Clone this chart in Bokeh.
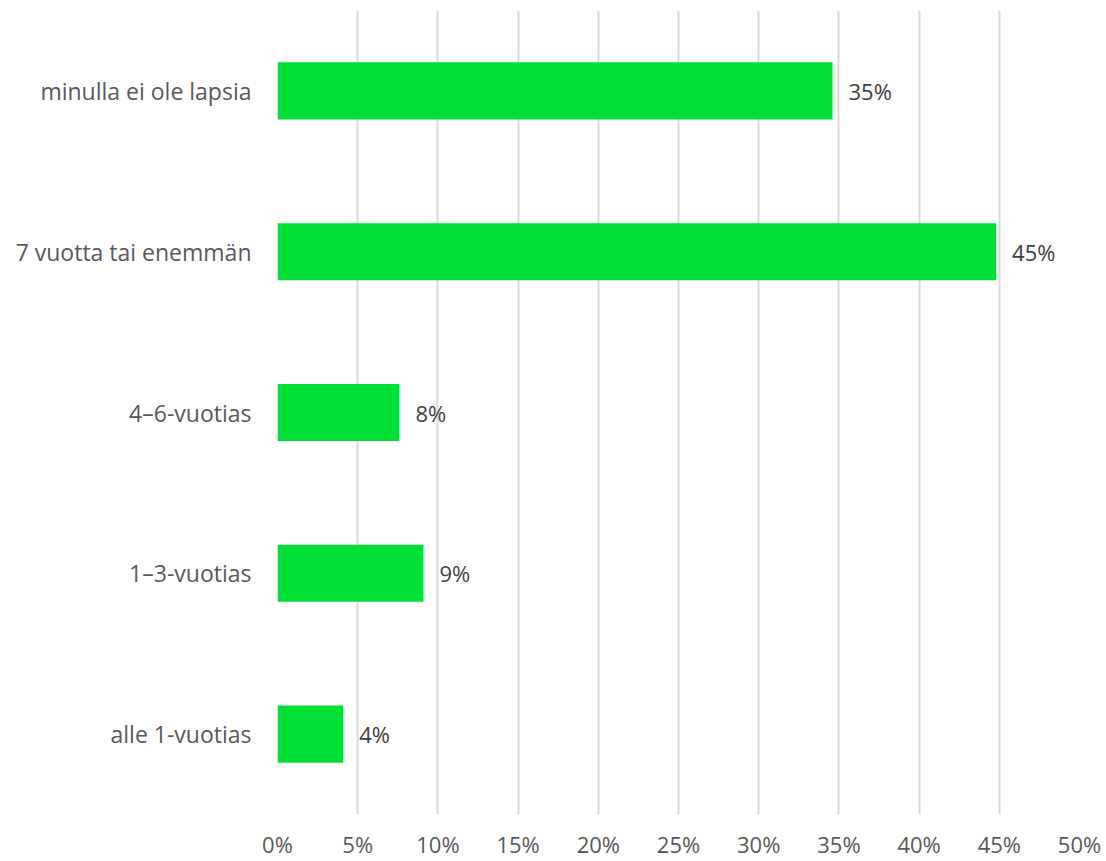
from bokeh.plotting import figure
from bokeh.models import ColumnDataSource, FactorRange, FixedTicker, NumeralTickFormatter
from bokeh.embed import file_html
from bokeh.resources import INLINE
from bokeh.core.properties import value

categories = ["alle 1-vuotias", "1–3-vuotias", "4–6-vuotias", "7 vuotta tai enemmän", "minulla ei ole lapsia"]
shares = [0.041, 0.091, 0.076, 0.448, 0.346]
labels = ["4%", "9%", "8%", "45%", "35%"]
ticks = [0, 0.05, 0.10, 0.15, 0.20, 0.25, 0.30, 0.35, 0.40, 0.45, 0.50]

FONT = "Open Sans"
src = ColumnDataSource(dict(cat=categories, val=shares, lab=labels))

p = figure(width=1106, height=861, y_range=FactorRange(*categories), x_range=(0, 0.5),
           output_backend="svg", toolbar_location=None,
           min_border_left=277, min_border_right=27, min_border_top=10, min_border_bottom=46)
p.outline_line_color = None
p.background_fill_color = "white"

p.hbar(y="cat", left=0, right="val", height=0.355, source=src, color="#00DF36", line_color=None)
p.text(x="val", y="cat", text="lab", source=src, x_offset=16, text_baseline="middle",
       text_align="left", text_font=value(FONT), text_font_size="22px", text_color="#404040")

p.xaxis.ticker = FixedTicker(ticks=ticks)
p.xaxis.formatter = NumeralTickFormatter(format="0%")
p.xaxis.axis_line_color = None
p.xaxis.major_tick_line_color = None
p.xaxis.minor_tick_line_color = None
p.xaxis.major_tick_out = 0
p.xaxis.major_tick_in = 0
p.xaxis.major_label_standoff = 14
p.xaxis.major_label_text_font = FONT
p.xaxis.major_label_text_font_size = "22px"
p.xaxis.major_label_text_color = "#595959"

p.yaxis.axis_line_color = None
p.yaxis.major_tick_line_color = None
p.yaxis.major_tick_out = 0
p.yaxis.major_tick_in = 0
p.yaxis.major_label_standoff = 26
p.yaxis.major_label_text_font = FONT
p.yaxis.major_label_text_font_size = "23px"
p.yaxis.major_label_text_color = "#595959"

p.ygrid.grid_line_color = None
p.xgrid.grid_line_color = "#d9d9d9"
p.xgrid.grid_line_width = 2

open("out.html", "w").write(file_html(p, INLINE))
